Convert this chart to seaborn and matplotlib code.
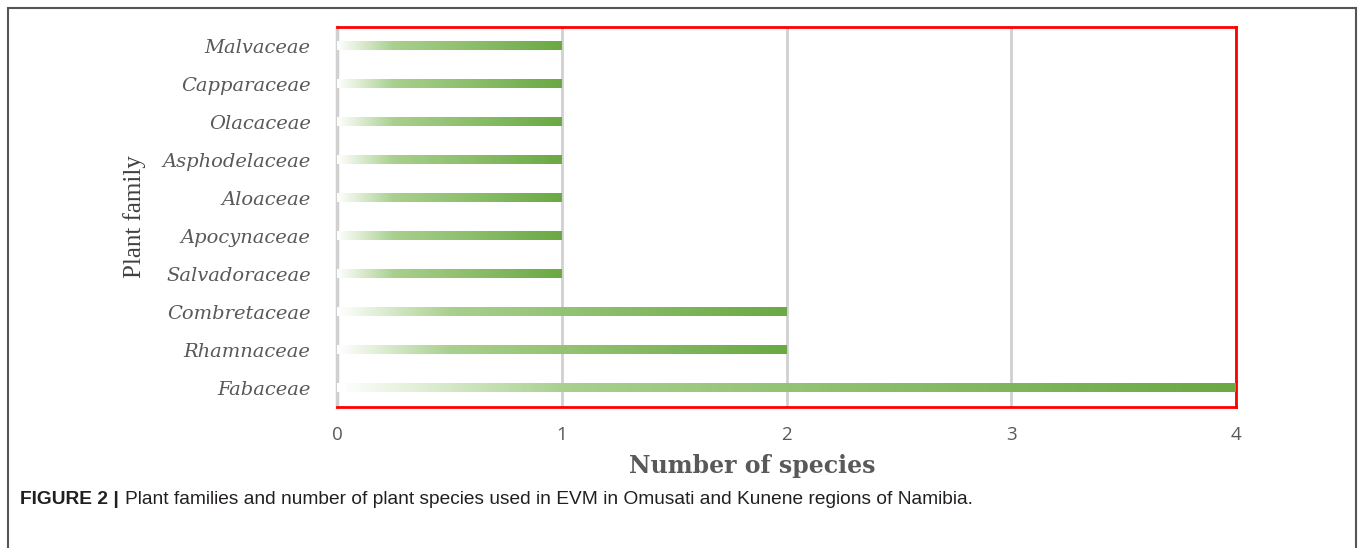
import numpy as np
import pandas as pd
import matplotlib
matplotlib.use('Agg')
import matplotlib.pyplot as plt
from matplotlib.colors import LinearSegmentedColormap
from matplotlib.patches import Rectangle
import seaborn as sns

# dane z wykresu
families = ['Malvaceae', 'Capparaceae', 'Olacaceae', 'Asphodelaceae', 'Aloaceae',
            'Apocynaceae', 'Salvadoraceae', 'Combretaceae', 'Rhamnaceae', 'Fabaceae']
n_species = [1, 1, 1, 1, 1, 1, 1, 2, 2, 4]
x_ticks = [0, 1, 2, 3, 4]

df = pd.DataFrame({'family': families, 'n': n_species})

sns.set_theme(style='white')
plt.rcParams['font.family'] = ['DejaVu Sans']

W, H = 1358, 548
fig = plt.figure(figsize=(W / 100, H / 100), dpi=100)
ax = fig.add_axes([337 / W, 1 - 407 / H, (1236 - 337) / W, (407 - 27) / H])

sns.barplot(data=df, x='n', y='family', orient='h', width=0.22, ax=ax,
            color='#70ad47', linewidth=0)

# gradient na slupkach
cmap = LinearSegmentedColormap.from_list('g', [(0, '#ffffff'), (0.25, '#a9d08e'), (1, '#6aa943')])
grad = np.linspace(0, 1, 256).reshape(1, -1)
for p in ax.patches:
    x0, y0 = p.get_x(), p.get_y()
    w, h = p.get_width(), p.get_height()
    p.set_visible(False)
    ax.imshow(grad, extent=[x0, x0 + w, y0 + h, y0], aspect='auto', cmap=cmap,
              zorder=3, interpolation='bicubic')

ax.set_xlim(0, 4)
ax.set_ylim(9.5, -0.5)
ax.set_xticks(x_ticks)
ax.set_xticklabels([str(t) for t in x_ticks], fontsize=13.5, color='#595959',
                   family='Open Sans')
ax.tick_params(axis='x', pad=14, length=0)
ax.tick_params(axis='y', pad=19, length=0)
for lab in ax.get_yticklabels():
    lab.set_fontfamily('DejaVu Serif')
    lab.set_fontstyle('italic')
    lab.set_fontsize(14)
    lab.set_color('#595959')

ax.grid(axis='x', color='#d0d0d0', linewidth=2, zorder=0)
ax.set_axisbelow(True)
for s in ['top', 'right', 'bottom']:
    ax.spines[s].set_color('#ff0000')
    ax.spines[s].set_linewidth(2)
ax.spines['left'].set_color('#d0d0d0')
ax.spines['left'].set_linewidth(2.5)

ax.set_xlabel('')
ax.set_ylabel('')
fig.text(752 / W, 1 - 466 / H, 'Number of species', ha='center', va='center',
         fontsize=17, fontweight='bold', family='DejaVu Serif', color='#595959')
fig.text(135 / W, 1 - 217 / H, 'Plant family', ha='center', va='center', rotation=90,
         fontsize=18, family='Liberation Serif', color='#404040')

# ramka
fig.patches.append(Rectangle((8 / W, -0.1), (1356 - 8) / W, 1.1 - 8 / H,
                             transform=fig.transFigure, fill=False,
                             edgecolor='#555555', linewidth=1.5))

# podpis
t1 = fig.text(20 / W, 1 - 500 / H, 'FIGURE 2 |', ha='left', va='center',
              fontsize=13.8, fontweight='bold', family='Liberation Sans', color='#231f20')
fig.canvas.draw()
bb = t1.get_window_extent()
fig.text((bb.x1 + 6) / W, 1 - 500 / H,
         'Plant families and number of plant species used in EVM in Omusati and Kunene regions of Namibia.',
         ha='left', va='center', fontsize=13.8, family='Liberation Sans', color='#231f20')

fig.savefig('out.png', dpi=100)
